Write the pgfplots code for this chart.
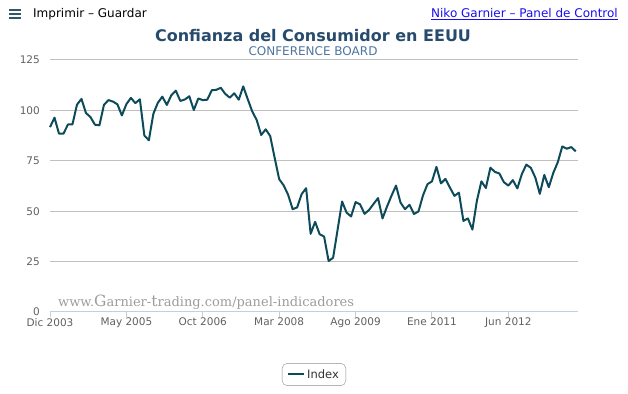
\documentclass[border=0pt]{standalone}
\usepackage{pgfplots}
\usepackage{pgfplotstable}
\pgfplotsset{compat=1.18}
\usepackage{fontspec}
\setmainfont{DejaVu Sans}
\newfontfamily\wmfont{DejaVu Serif}
\definecolor{linec}{HTML}{0D4A5A}
\definecolor{gridc}{HTML}{C0C0C0}
\definecolor{axisc}{HTML}{C0D0E0}
\definecolor{labc}{HTML}{606060}
\definecolor{titlec}{HTML}{274B6D}
\definecolor{subc}{HTML}{4D759E}
\definecolor{linkc}{HTML}{1A0DEE}
\definecolor{iconc}{HTML}{2E5A68}
\definecolor{wmc}{HTML}{9C9C9C}
\definecolor{legc}{HTML}{909090}
\pgfplotstableread{
v
91.7
96.4
88.5
88.5
93.0
93.1
102.8
105.7
98.7
96.7
92.9
92.6
102.7
105.1
104.4
103.0
97.5
103.1
106.2
103.6
105.5
87.5
85.2
98.3
103.8
106.8
102.7
107.5
109.8
104.7
105.4
107.0
100.2
105.9
105.1
105.3
110.0
110.2
111.2
108.2
106.3
108.5
105.3
111.9
105.6
99.5
95.2
87.8
90.6
87.3
76.4
65.9
62.8
58.1
51.0
51.9
58.5
61.4
38.8
44.7
38.6
37.4
25.3
26.9
40.8
54.8
49.3
47.4
54.5
53.4
48.7
50.6
53.6
56.5
46.4
52.3
57.7
62.7
54.3
51.0
53.2
48.6
49.9
57.8
63.4
64.8
72.0
63.8
66.0
61.7
57.6
59.2
45.2
46.4
40.9
55.2
64.8
61.5
71.6
69.5
68.7
64.4
62.7
65.4
61.3
68.4
73.1
71.5
66.7
58.6
68.0
61.9
69.0
74.3
82.1
81.0
81.8
79.7
}\datatable
\begin{document}
\begin{tikzpicture}
\path (0pt,0pt) rectangle (628pt,393pt);
% header
\fill[iconc] (9pt,384pt) rectangle (21pt,382pt);
\fill[iconc] (9pt,380pt) rectangle (21pt,378pt);
\fill[iconc] (9pt,376pt) rectangle (21pt,374pt);
\node[anchor=west, inner sep=0pt, font=\fontsize{12}{14}\selectfont] at (33pt,378.5pt) {Imprimir – Guardar};
\node[anchor=east, inner sep=0pt, text=linkc, font=\fontsize{12}{14}\selectfont] at (618pt,379pt) {\underline{Niko Garnier – Panel de Control}};
\node[text=titlec, font=\bfseries\fontsize{16}{19}\selectfont] at (313pt,357pt) {Confianza del Consumidor en EEUU};
\node[text=subc, font=\fontsize{12}{14}\selectfont] at (313pt,342pt) {CONFERENCE BOARD};
\node[anchor=base west, inner sep=0pt, text=wmc, font=\wmfont\fontsize{13}{15}\selectfont] at (58pt,86pt) {www.{\fontsize{15.5}{15}\selectfont G}arnier-{\fontsize{15.5}{15}\selectfont t}rading.com/panel-indicadores};
\begin{axis}[
  at={(50pt,81pt)}, anchor=south west, scale only axis, width=528pt, height=252pt,
  xmin=0, xmax=117.5, ymin=0, ymax=125,
  axis x line*=bottom, axis y line*=left,
  x axis line style={draw=axisc, line width=1pt, -},
  y axis line style={draw=none},
  xtick={0,17,34,51,68,85,102},
  xticklabels={Dic 2003, May 2005, Oct 2006, Mar 2008, Ago 2009, Ene 2011, Jun 2012},
  ytick={0,25,50,75,100,125},
  ymajorgrids, grid style={draw=gridc, line width=1pt},
  tick align=outside, major tick length=5pt,
  xtick style={draw=axisc, line width=1pt},
  ytick style={draw=none},
  ticklabel style={font=\fontsize{10.5}{12}\selectfont, text=labc},
  /pgf/number format/assume math mode=true,
  xticklabel style={anchor=north, inner sep=0pt, yshift=-1pt},
  yticklabel style={anchor=east, inner sep=0pt, xshift=-5pt},
  legend style={at={(0.5,-0.248)}, anchor=center, draw=legc, rounded corners=5pt,
    font=\fontsize{11.5}{13}\selectfont, text=black!80, inner xsep=5pt, inner ysep=4pt},
  legend image code/.code={\draw[linec, line width=2pt] (0pt,0pt)--(16pt,0pt);},
  clip=false,
]
\addplot[linec, line width=2pt, line join=round, mark=none] table[x expr=\coordindex, y=v] {\datatable};
\addlegendentry{Index}
\end{axis}
\end{tikzpicture}
\end{document}
